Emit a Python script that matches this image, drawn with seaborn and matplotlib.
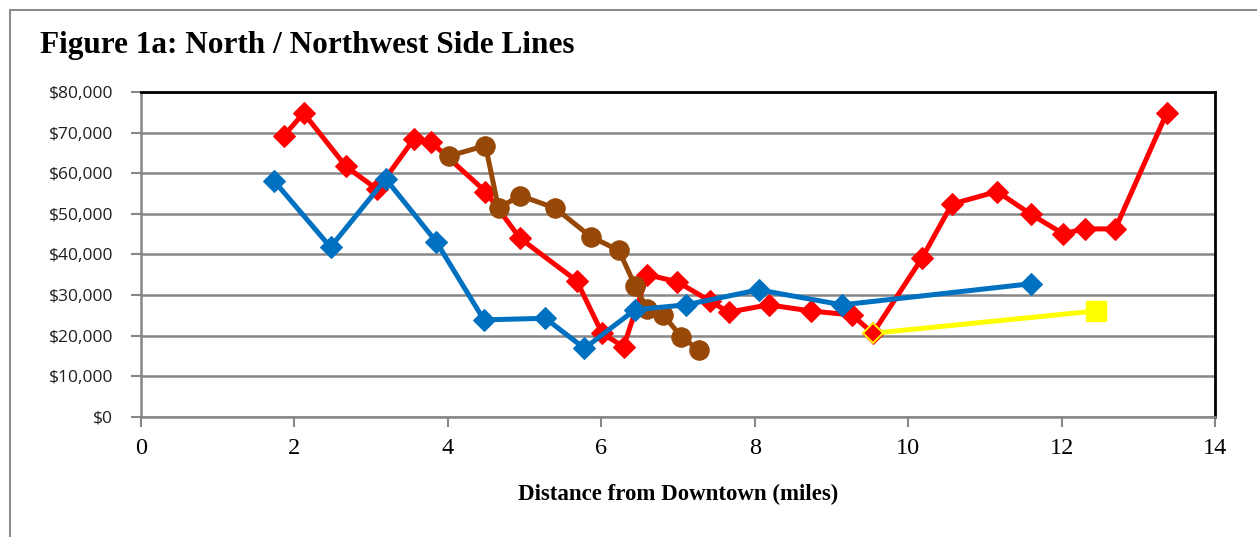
import matplotlib
matplotlib.use("Agg")
import matplotlib.pyplot as plt
import matplotlib.ticker as mticker
from matplotlib.lines import Line2D
import seaborn as sns

# Median household income along each rail line vs. distance from downtown
red_miles = [1.86, 2.12, 2.67, 3.08, 3.56, 3.78, 4.49, 4.94, 5.68, 6.01, 6.29, 6.60, 6.99,
             7.42, 7.66, 8.18, 8.73, 9.27, 9.54, 10.18, 10.57, 11.16, 11.60, 12.02, 12.30,
             12.70, 13.37]
red_income = [69200, 74800, 61700, 56000, 68500, 67700, 55500, 44000, 33500, 20600, 17300,
              35000, 33300, 28500, 25800, 27600, 26100, 25100, 20600, 39100, 52400, 55500,
              49900, 45100, 46300, 46300, 74800]

blue_miles = [1.73, 2.47, 3.19, 3.85, 4.47, 5.27, 5.78, 6.44, 7.10, 8.05, 9.14, 11.60]
blue_income = [58200, 41800, 58600, 43100, 23900, 24300, 16900, 26400, 27600, 31300, 27600, 32800]

brown_miles = [4.01, 4.49, 4.66, 4.94, 5.40, 5.86, 6.23, 6.44, 6.60, 6.81, 7.04, 7.27]
brown_income = [64200, 66800, 51400, 54500, 51400, 44400, 41000, 32300, 26500, 25100, 19800, 16500]

yellow_miles = [9.54, 12.45]
yellow_income = [20600, 26100]

x_ticks = [0, 2, 4, 6, 8, 10, 12, 14]
y_ticks = [0, 10000, 20000, 30000, 40000, 50000, 60000, 70000, 80000]

RED = "#FF0000"
BLUE = "#0070C0"
BROWN = "#974806"
YELLOW = "#FFFF00"
GRID = "#878787"

sns.set_theme(style="white")
plt.rcParams["font.family"] = ["DejaVu Sans"]

fig = plt.figure(figsize=(12.57, 5.37), dpi=100)
ax = fig.add_axes([0.1122, 0.2235, 0.8544, 0.6052])

lw = 3.6
sns.lineplot(x=red_miles, y=red_income, sort=False, color=RED, lw=lw, marker="D",
             markersize=11.5, markeredgecolor=RED, ax=ax, zorder=3)
sns.lineplot(x=brown_miles, y=brown_income, sort=False, color=BROWN, lw=lw, marker="o",
             markersize=14, markeredgecolor=BROWN, ax=ax, zorder=4)
sns.lineplot(x=blue_miles, y=blue_income, sort=False, color=BLUE, lw=lw, marker="D",
             markersize=11.5, markeredgecolor=BLUE, ax=ax, zorder=5)
sns.lineplot(x=yellow_miles, y=yellow_income, sort=False, color=YELLOW, lw=lw, ax=ax, zorder=6)
# end markers of the yellow line: red diamond with yellow rim at the start, square at the end
ax.plot(yellow_miles[:1], yellow_income[:1], linestyle="none", marker="D", markersize=10,
        markerfacecolor=RED, markeredgecolor=YELLOW, markeredgewidth=1.3, zorder=7)
ax.plot(yellow_miles[-1:], yellow_income[-1:], linestyle="none", marker="s", markersize=14,
        markerfacecolor=YELLOW, markeredgecolor=YELLOW, zorder=7)

ax.set_xlim(0, 14)
ax.set_ylim(0, 80000)
ax.set_xticks(x_ticks)
ax.set_yticks(y_ticks)
ax.yaxis.set_major_formatter(mticker.FuncFormatter(lambda v, p: "${:,.0f}".format(v)))

ax.grid(axis="y", color=GRID, lw=1.8)
ax.grid(axis="x", visible=False)
ax.set_axisbelow(True)

for side in ("top", "right"):
    ax.spines[side].set_color("black")
    ax.spines[side].set_linewidth(2.0)
for side in ("left", "bottom"):
    ax.spines[side].set_color(GRID)
    ax.spines[side].set_linewidth(1.8)

ax.tick_params(axis="both", which="major", direction="out", length=7, width=1.5,
               color=GRID, bottom=True, left=True)
ax.tick_params(axis="y", pad=13)
ax.tick_params(axis="x", pad=8)
for lab in ax.get_yticklabels():
    lab.set_fontfamily("Open Sans")
    lab.set_fontsize(12.5)
    lab.set_color("#1f1f1f")
for lab in ax.get_xticklabels():
    lab.set_fontfamily("Liberation Serif")
    lab.set_fontsize(17.5)
    lab.set_color("black")

ax.set_xlabel("Distance from Downtown (miles)", fontfamily="Liberation Serif",
              fontweight="bold", fontsize=16.5, labelpad=18, color="black")
ax.set_ylabel("")

fig.text(40 / 1257, 1 - 45 / 537, "Figure 1a: North / Northwest Side Lines",
         fontfamily="Liberation Serif", fontweight="bold", fontsize=22.5,
         ha="left", va="center", color="black")

# page frame around the figure block
fig.add_artist(Line2D([10 / 1257, 10 / 1257], [0, 1 - 10 / 537], transform=fig.transFigure,
                      color="#8c8c8c", lw=1.5))
fig.add_artist(Line2D([10 / 1257, 1], [1 - 10 / 537, 1 - 10 / 537], transform=fig.transFigure,
                      color="#8c8c8c", lw=1.5))

fig.savefig("out.png", dpi=100, facecolor="white")
